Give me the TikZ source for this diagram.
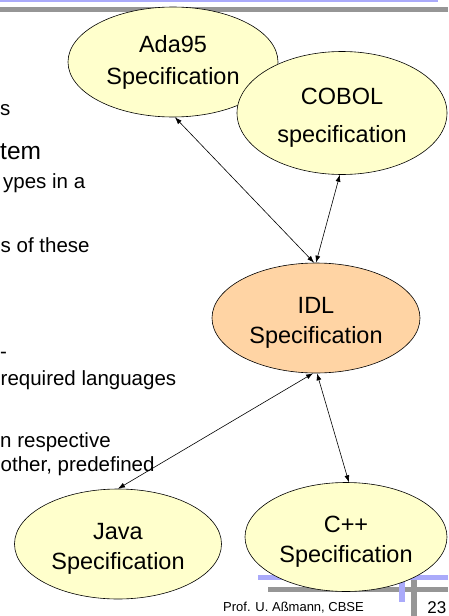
\documentclass[tikz,border=0pt]{standalone}
\usepackage{fontspec}
\setmainfont{Liberation Sans}
\usetikzlibrary{shapes.geometric,arrows.meta}
\definecolor{specyellow}{RGB}{255,255,204}
\definecolor{idlpeach}{RGB}{255,212,164}
\definecolor{lav}{RGB}{170,170,250}
\definecolor{bargray}{RGB}{150,150,150}
\tikzset{
  spec/.style={ellipse, draw=black, line width=0.6pt, fill=specyellow, inner sep=0pt, align=center, font=\fontsize{23.5}{30}\selectfont},
  arr/.style={{Latex[length=7pt,width=5pt]}-{Latex[length=7pt,width=5pt]}, line width=0.6pt},
  bodytext/.style={anchor=base west, inner sep=0pt, font=\fontsize{20.5}{24}\selectfont},
  bigtext/.style={anchor=base west, inner sep=0pt, font=\fontsize{24.5}{28}\selectfont},
}
\newcommand{\topstrut}[1]{\rule{0pt}{#1}}
\begin{document}
\begin{tikzpicture}[x=1pt,y=-1pt]
\useasboundingbox (0,0) rectangle (448,616);
\clip (0,0) rectangle (448,616);
% top rules
\fill[lav] (0,0) rectangle (438,2);
\fill[bargray] (0,7) rectangle (448,12);
% logo bottom right
\fill[bargray] (268,587) rectangle (448,592);
\fill[bargray] (411,580) rectangle (417,616);
\fill[lav] (258,575) rectangle (448,580);
\fill[lav] (399,580) rectangle (405,602);
% left text fragments
\node[bodytext] (t1) at (0,115) {s};
\node[bigtext] (t2) at (0,159) {tem};
\node[bodytext] (t3) at (3,188) {ypes in a};
\node[bodytext] (t4) at (0.5,252) {s of these};
\node[bodytext] (t5) at (0,358) {-};
\node[bodytext] (t6) at (0.5,385) {required languages};
\node[bodytext] (t7) at (0,447) {n respective};
\node[bodytext] (t8) at (0.5,471) {other, predefined};
% footer
\node[anchor=base west, inner sep=0pt, font=\fontsize{13}{15}\selectfont] (prof) at (223,611) {Prof. U. Aßmann, CBSE};
\node[anchor=base east, inner sep=0pt, font=\fontsize{17}{19}\selectfont] (pnum) at (446.5,613) {23};
% ellipses
\node[spec, minimum width=210pt, minimum height=110pt] (ada) at (173,62) {Ada95\\[2pt]Specification};
\node[spec, minimum width=210pt, minimum height=123pt] (cobol) at (342,113) {\topstrut{25.5pt}COBOL\\[8.5pt]specification};
\node[spec, fill=idlpeach, minimum width=208pt, minimum height=110pt] (idl) at (316,318) {\topstrut{26pt}IDL\\Specification};
\node[spec, minimum width=207pt, minimum height=110pt] (java) at (118,544) {\topstrut{26pt}Java\\Specification};
\node[spec, minimum width=202pt, minimum height=109pt] (cpp) at (346,537) {\topstrut{26pt}C++\\Specification};
% connectors
\draw[arr] (ada.-88) -- (idl.92);
\draw[arr] (cobol.-92) -- (idl.90);
\draw[arr] (idl.-93) -- (java.90);
\draw[arr] (idl.-89) -- (cpp.87);
\end{tikzpicture}
\end{document}
